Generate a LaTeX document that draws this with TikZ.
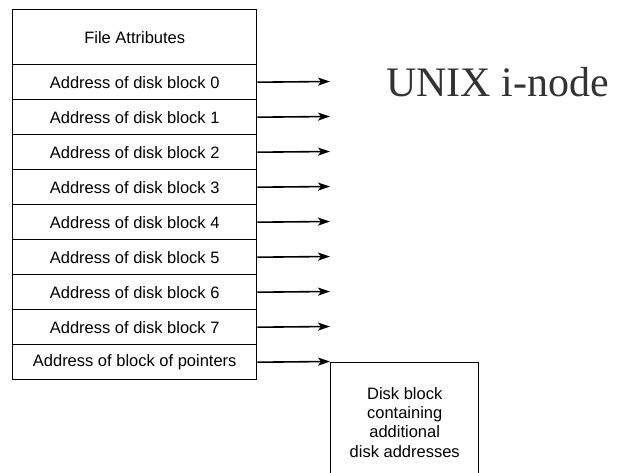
\documentclass[tikz,border=0pt]{standalone}
\usepackage{fontspec}
\setmainfont{Liberation Sans}
\newfontfamily\titlefont{Liberation Serif}
\usetikzlibrary{arrows.meta}
\definecolor{titlegray}{HTML}{333333}
\tikzset{
  cell/.style={draw, line width=1.4pt, minimum width=244pt, minimum height=35pt,
    inner sep=0pt, font=\fontsize{16.5}{19}\selectfont, anchor=north west},
  ptrarrow/.style={line width=1.6pt, -{Stealth[length=12pt,width=8pt,inset=3pt]}},
}
\begin{document}
\begin{tikzpicture}[x=1pt,y=-1pt]
  \clip (0,0) rectangle (618,473);
  \fill[white] (0,0) rectangle (618,473);
  % i-node table
  \node[cell, minimum height=55pt] (attr) at (12,9) {File Attributes};
  \foreach \i in {0,...,7} {
    \node[cell] (b\i) at (12,{64+35*\i}) {Address of disk block \i};
    \coordinate (t\i) at (330,{81.5+35*\i});
    \draw[ptrarrow] (b\i.east) -- (t\i);
  }
  \node[cell] (ptr) at (12,344) {Address of block of pointers};
  % indirect block
  \node[draw, line width=1.4pt, minimum width=148pt, minimum height=120pt,
    anchor=north west, align=center, inner sep=0pt,
    font=\fontsize{16.5}{19.3}\selectfont] (disk) at (330,361.5)
    {Disk block\\containing\\additional\\disk addresses};
  \draw[ptrarrow] (ptr.east) -- (disk.north west);
  % caption
  \node[anchor=west, text=titlegray, font=\titlefont\fontsize{42}{48}\selectfont,
    inner sep=0pt] (title) at (386,82) {UNIX i-node};
\end{tikzpicture}
\end{document}
